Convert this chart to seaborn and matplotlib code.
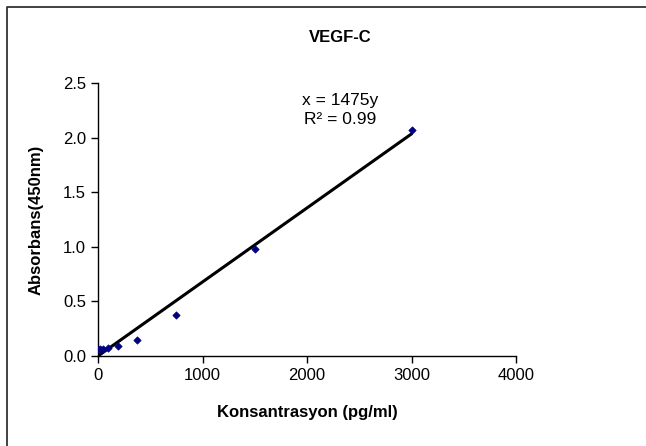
import matplotlib
matplotlib.use("Agg")
import matplotlib.pyplot as plt
import seaborn as sns
import numpy as np
import pandas as pd
from matplotlib.lines import Line2D

concentration = [0, 23.4, 46.9, 93.75, 187.5, 375, 750, 1500, 3000]
absorbance = [0.06, 0.06, 0.06, 0.07, 0.09, 0.15, 0.38, 0.98, 2.07]
slope_k = 1475  # x = 1475y
fit_x = [0, 3000]
xticks = [0, 1000, 2000, 3000, 4000]
yticks = [0.0, 0.5, 1.0, 1.5, 2.0, 2.5]
ytick_labels = ["0.0", "0.5", "1.0", "1.5", "2.0", "2.5"]

sns.set_theme(style="ticks")
plt.rcParams["font.family"] = ["Liberation Sans", "DejaVu Sans"]
plt.rcParams["text.color"] = "black"
plt.rcParams["axes.labelcolor"] = "black"
plt.rcParams["xtick.color"] = "black"
plt.rcParams["ytick.color"] = "black"

fig = plt.figure(figsize=(6.46, 4.46), dpi=100)
W, H = 646, 446
ax = fig.add_axes([98 / W, 1 - 356 / H, (516 - 98) / W, (356 - 83) / H])

df = pd.DataFrame({"x": concentration, "y": absorbance})
fit = pd.DataFrame({"x": fit_x, "y": [v / slope_k for v in fit_x]})

sns.lineplot(data=fit, x="x", y="y", ax=ax, color="black", linewidth=2.2)
sns.scatterplot(data=df, x="x", y="y", ax=ax, marker="D", s=14, color="#000080",
                edgecolor="#000080", linewidth=0.5, zorder=3)

ax.set_xlim(0, 4000)
ax.set_ylim(0, 2.5)
ax.set_xticks(xticks)
ax.set_yticks(yticks)
ax.set_yticklabels(ytick_labels)
ax.tick_params(axis="both", labelsize=12, length=5, width=1, colors="black", direction="out")
for s in ["top", "right"]:
    ax.spines[s].set_visible(False)
for s in ["left", "bottom"]:
    ax.spines[s].set_color("black")
    ax.spines[s].set_linewidth(1)

ax.set_xlabel("Konsantrasyon (pg/ml)", fontsize=12, fontweight="bold", labelpad=16, color="black")
ax.set_ylabel("Absorbans(450nm)", fontsize=12, fontweight="bold", labelpad=14, color="black")
fig.text(340 / W, 1 - 38 / H, "VEGF-C", ha="center", va="center", fontsize=12,
         fontweight="bold", color="black")

fig.text(340 / W, 1 - 100 / H, "x = 1475y", ha="center", va="center", fontsize=12.5, color="black")
fig.text(340 / W, 1 - 119 / H, "R² = 0.99", ha="center", va="center", fontsize=12.5, color="black")

bx, by = 6.5 / W, 1 - 6.5 / H
fig.lines.append(Line2D([bx, bx, 1.0], [0, by, by], transform=fig.transFigure,
                        color="#333333", linewidth=1.3))

fig.savefig("out.png", dpi=100, facecolor="white")
